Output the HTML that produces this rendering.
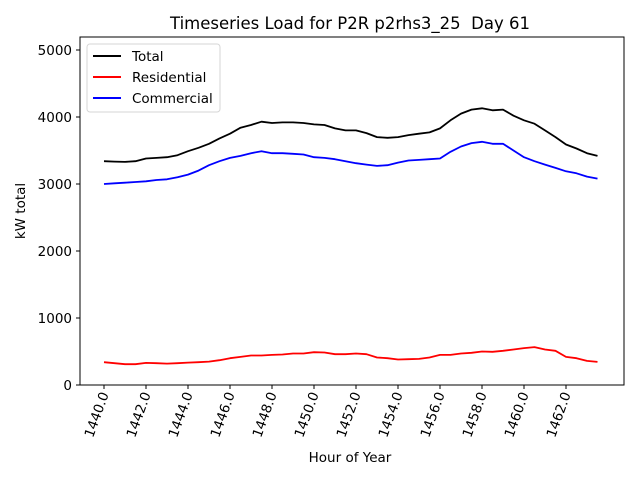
<!DOCTYPE html>
<html><head><meta charset="utf-8"><style>
body{margin:0;background:#fff;font-family:"DejaVu Sans","Liberation Sans",sans-serif}
</style></head><body>
<svg id="chart" width="640" height="480" xmlns="http://www.w3.org/2000/svg" font-family="DejaVu Sans, Liberation Sans, sans-serif">
<rect width="640" height="480" fill="#fff"/>
<text x="350" y="29" text-anchor="middle" font-size="16.5">Timeseries Load for P2R p2rhs3_25 &#160;Day 61</text>
<rect x="80" y="37" width="544" height="348" fill="none" stroke="#000" stroke-width="1"/>
<g id="yticks"></g><g id="xticks"></g><g id="series"></g>
<text transform="translate(25,211) rotate(-90)" text-anchor="middle" font-size="13.5">kW total</text>
<text x="350" y="462" text-anchor="middle" font-size="13.5">Hour of Year</text>
<g>
<rect x="87" y="44" width="133" height="68" rx="3" fill="#fff" stroke="#ccc" stroke-opacity="0.8"/>
<line x1="93" y1="56" x2="121" y2="56" stroke="#000" stroke-width="2"/>
<text x="132" y="61" font-size="13.5">Total</text>
<line x1="93" y1="77" x2="121" y2="77" stroke="#f00" stroke-width="2"/>
<text x="132" y="82" font-size="13.5">Residential</text>
<line x1="93" y1="98" x2="121" y2="98" stroke="#00f" stroke-width="2"/>
<text x="132" y="103" font-size="13.5">Commercial</text>
</g>
</svg>
<script>
const hours = [];
for (let i = 0; i < 48; i++) hours.push(1440 + i * 0.5);
const totalLoad = [3340,3335,3330,3340,3380,3390,3400,3430,3490,3540,3600,3680,3750,3840,3880,3930,3910,3920,3920,3910,3890,3880,3830,3800,3800,3760,3700,3690,3700,3730,3750,3770,3830,3950,4050,4110,4130,4100,4110,4020,3950,3900,3800,3700,3590,3530,3460,3420];
const residentialLoad = [340,325,310,310,330,325,320,325,335,340,350,370,400,420,440,440,450,455,470,470,490,485,460,460,470,460,410,400,380,385,390,410,450,450,470,480,500,495,510,530,550,565,530,510,420,400,360,345];
const commercialLoad = [3000,3010,3020,3030,3040,3060,3070,3100,3140,3200,3280,3340,3390,3420,3460,3490,3460,3460,3450,3440,3400,3390,3370,3340,3310,3290,3270,3280,3320,3350,3360,3370,3380,3480,3560,3610,3630,3600,3600,3500,3400,3340,3290,3240,3190,3160,3110,3080];
const yTickValues = [0,1000,2000,3000,4000,5000];
const xTickValues = [1440,1442,1444,1446,1448,1450,1452,1454,1456,1458,1460,1462];

const NS = "http://www.w3.org/2000/svg";
const xScale = h => 104 + (h - 1440) * 21;
const yScale = v => 385 - v * 0.067;
function mk(tag, attrs, parent){const e=document.createElementNS(NS,tag);for(const k in attrs)e.setAttribute(k,attrs[k]);parent.appendChild(e);return e;}

const yg = document.getElementById('yticks');
yTickValues.forEach(v=>{
  const y=yScale(v);
  const l=mk('line',{x1:76,x2:80,y1:y,y2:y,stroke:'#000'},yg);
  
  
  const t=mk('text',{x:72,y:y+5,'text-anchor':'end','font-size':'13.5'},yg);
  t.textContent=v;
  
  
});
const xg = document.getElementById('xticks');
xTickValues.forEach(h=>{
  const x=xScale(h);
  const l=mk('line',{x1:x,x2:x,y1:385,y2:389,stroke:'#000'},xg);
  
  
  const t=mk('text',{transform:`translate(${x+5},${394}) rotate(-70)`,'text-anchor':'end','font-size':'13.5'},xg);
  t.textContent=h.toFixed(1);
  
  
});
const sg = document.getElementById('series');
[[totalLoad,'#000','total-line'],[residentialLoad,'#f00','residential-line'],[commercialLoad,'#00f','commercial-line']].forEach(([vals,c,name])=>{
  const d=vals.map((v,i)=>(i?'L':'M')+xScale(hours[i]).toFixed(1)+','+yScale(v).toFixed(1)).join(' ');
  const p=mk('path',{d:d,fill:'none',stroke:c,'stroke-width':1.8,'stroke-linejoin':'round'},sg);
  
  
});
</script>
</body></html>
